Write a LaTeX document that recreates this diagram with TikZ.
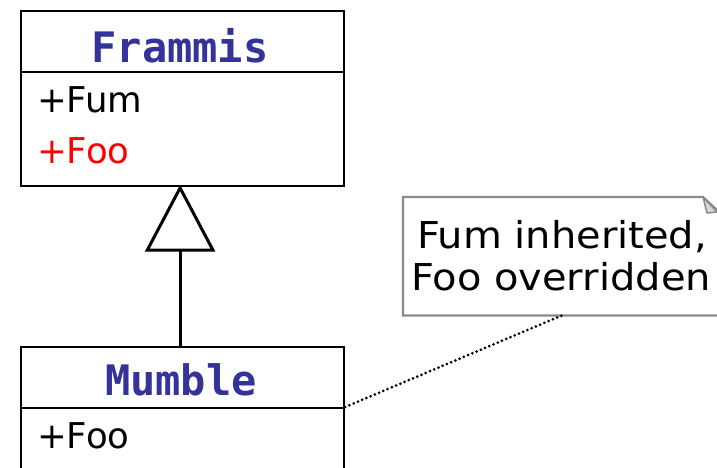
\documentclass[tikz,border=0pt]{standalone}
\usepackage{fontspec}
\usetikzlibrary{arrows.meta}
\newfontfamily\classnamefont{DejaVu Sans Mono}
\newfontfamily\memberfont{DejaVu Sans}
\newfontfamily\notefont[FakeStretch=1.08]{DejaVu Sans}
\definecolor{classblue}{HTML}{333399}
\definecolor{memberred}{HTML}{FF0000}
\definecolor{noteedge}{HTML}{8A8A8A}
\definecolor{notefold}{HTML}{D6D6D6}

\tikzset{
  classbox/.style={draw=black, line width=2.2pt, fill=white, inner sep=0pt, anchor=north west},
  compartment/.style={draw=black, line width=2.2pt},
  classname/.style={inner sep=0pt, anchor=base, text=classblue,
    font=\classnamefont\bfseries\fontsize{42}{42}\selectfont},
  member/.style={inner sep=0pt, anchor=base west,
    font=\memberfont\fontsize{35.5}{35.5}\selectfont},
  notearea/.style={inner sep=0pt, anchor=north west},
  noteline/.style={inner sep=0pt, anchor=base,
    font=\notefont\fontsize{37}{37}\selectfont},
  noteoutline/.style={draw=noteedge, line width=2.2pt, fill=white, line join=miter},
  inherit/.style={draw=black, line width=3pt,
    -{Triangle[open, length=67pt, width=70pt, line width=3pt]}},
  anchorline/.style={draw=black, line width=3pt, line cap=round,
    dash pattern=on 0pt off 4.6pt}
}

\begin{document}
\begin{tikzpicture}[x=1pt, y=-1pt]
  \useasboundingbox (0,0) rectangle (717,468);
  \clip (0,0) rectangle (717,468);

  % superclass Frammis
  \node[classbox, minimum width=323pt, minimum height=175pt] (frammis) at (20,10) {};
  \draw[compartment] ([yshift=-62pt]frammis.north west) -- ([yshift=-62pt]frammis.north east);
  \node[classname] (frammisname) at (180,63) {Frammis};
  \node[member] (frammisfum) at (37,113) {+Fum};
  \node[member, text=memberred] (frammisfoo) at (37,163) {+Foo};

  % subclass Mumble
  \node[classbox, minimum width=323pt, minimum height=200pt] (mumble) at (20,346) {};
  \draw[compartment] ([yshift=-62pt]mumble.north west) -- ([yshift=-62pt]mumble.north east);
  \node[classname] (mumblename) at (181,395) {Mumble};
  \node[member] (mumblefoo) at (37,448) {+Foo};

  % generalisation arrow
  \draw[inherit] ([xshift=-2.5pt]mumble.north) -- ([xshift=-2.5pt, yshift=2.5pt]frammis.south);

  % note with folded corner
  \node[notearea, minimum width=320pt, minimum height=118pt] (note) at (403,197) {};
  \draw[noteoutline] (note.north west) -- ([xshift=300pt]note.north west)
    -- ([xshift=316pt, yshift=-15pt]note.north west)
    -- ([xshift=316pt]note.south west) -- (note.south west) -- cycle;
  \draw[draw=noteedge, line width=1.5pt, fill=notefold, line join=round]
    ([xshift=300pt]note.north west) -- ([xshift=314pt, yshift=-15pt]note.north west)
    -- ([xshift=304pt, yshift=-16pt]note.north west) -- cycle;
  \node[noteline] (notefirst) at (562,248) {Fum inherited,};
  \node[noteline] (notesecond) at (561,290) {Foo overridden};

  % note anchor
  \draw[anchorline] ([yshift=-61pt]mumble.north east) -- ([xshift=159pt]note.south west);
\end{tikzpicture}
\end{document}
